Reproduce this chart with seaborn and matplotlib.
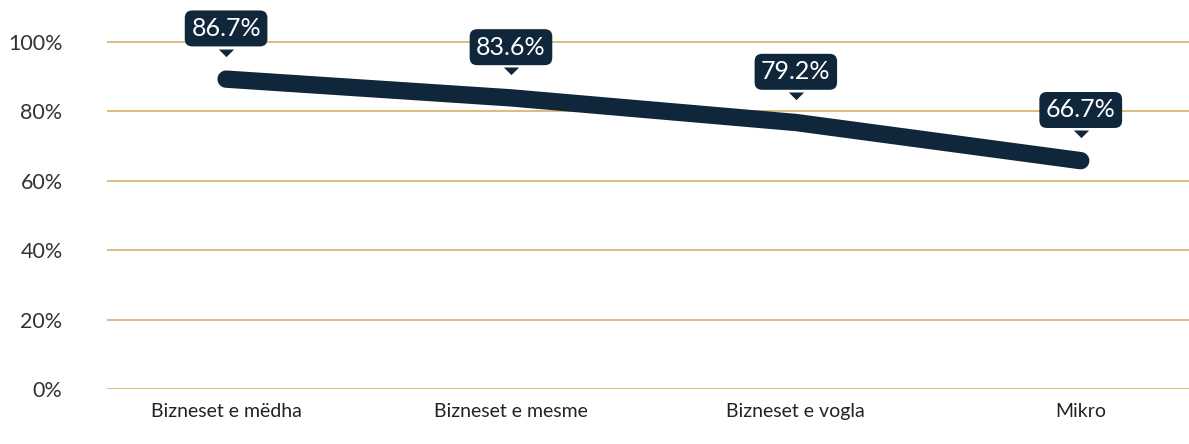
import matplotlib
matplotlib.use("Agg")
import matplotlib.pyplot as plt
import matplotlib.transforms as mtransforms
import seaborn as sns
import pandas as pd

categories = ["Bizneset e mëdha", "Bizneset e mesme", "Bizneset e vogla", "Mikro"]
line_values = [89.3, 83.9, 76.8, 65.8]
label_values = [86.7, 83.6, 79.2, 66.7]
y_ticks = [0, 20, 40, 60, 80, 100]

navy = "#10263b"
gold = "#dcbb7e"

sns.set_theme(style="white")
plt.rcParams["font.family"] = ["Lato", "DejaVu Sans"]

fig = plt.figure(figsize=(11.89, 4.44), dpi=100)
ax = fig.add_axes([107 / 1189, 1 - 389 / 444, 1 - 107 / 1189, (389 - 7.3) / 444])

df = pd.DataFrame({"cat": categories, "val": line_values})
sns.lineplot(data=df, x="cat", y="val", sort=False, ax=ax, color=navy,
             linewidth=12.5, solid_capstyle="round", solid_joinstyle="round", zorder=3)

ax.set_ylim(0, 110)
ax.set_xlim(-0.418, 3.38)
ax.set_yticks(y_ticks)
ax.set_yticklabels([f"{t}%" for t in y_ticks])
ax.yaxis.grid(True, color=gold, linewidth=1.4)
ax.xaxis.grid(False)
for s in ax.spines.values():
    s.set_visible(False)
ax.tick_params(axis="y", length=0, pad=32, labelsize=15.5, labelcolor="#333333")
ax.tick_params(axis="x", length=0, pad=10, labelsize=14, labelcolor="#222222")
ax.set_xlabel("")
ax.set_ylabel("")

tri = [(-1, 0), (1, 0), (0, -1), (-1, 0)]
for i, (lv, tv) in enumerate(zip(line_values, label_values)):
    ax.annotate(f"{tv}%", xy=(i, lv), xytext=(0, 36.5), textcoords="offset points",
                ha="center", va="center", fontsize=18, color="white",
                bbox=dict(boxstyle="round,pad=0.26,rounding_size=0.3", fc=navy, ec="none"),
                zorder=5, annotation_clip=False)
    tr = mtransforms.offset_copy(ax.transData, fig=fig, x=0, y=22.0, units="points")
    ax.plot([i], [lv], marker=tri, markersize=11, color=navy, transform=tr,
            clip_on=False, zorder=5, markeredgewidth=0)

fig.savefig("out.png", dpi=100)
